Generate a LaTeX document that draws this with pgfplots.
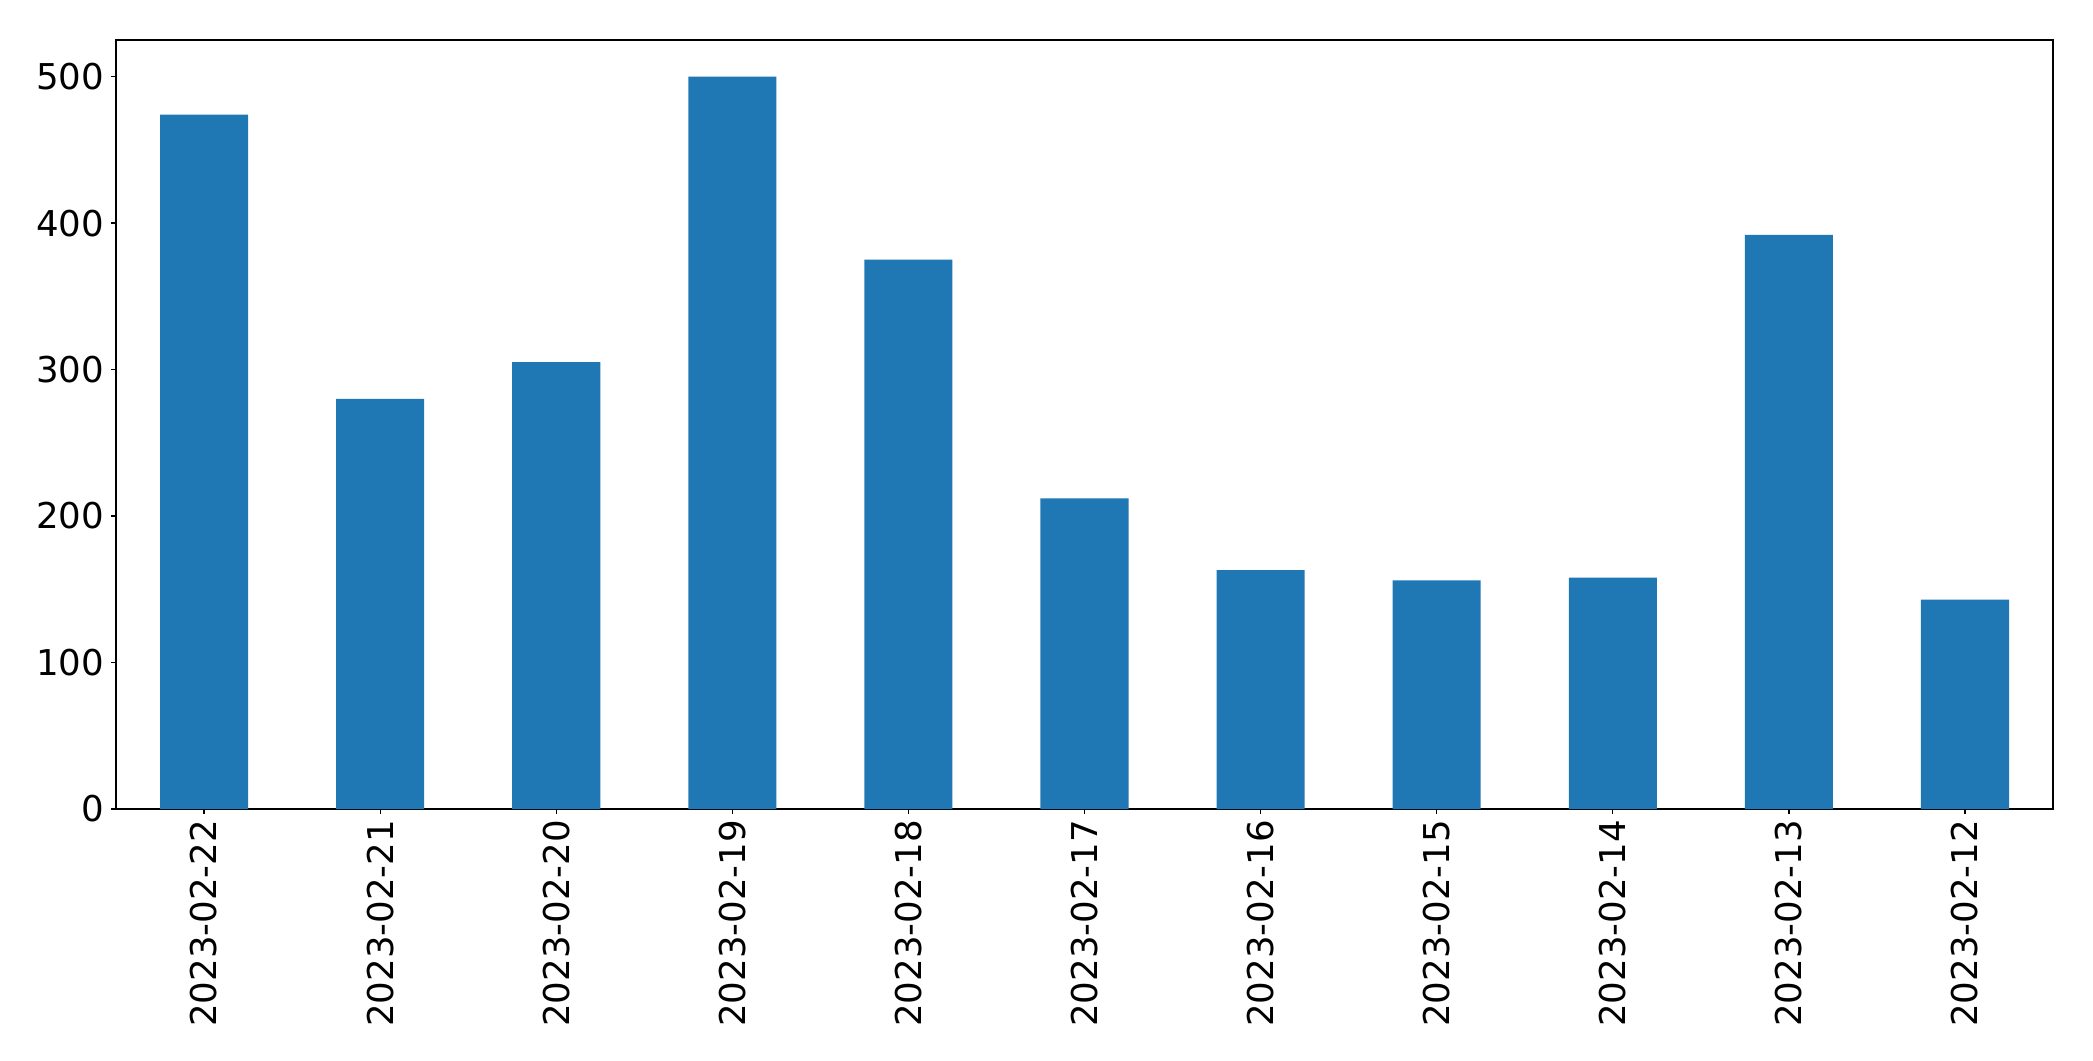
\documentclass[border=0pt]{standalone}
\usepackage{pgfplots}
\pgfplotsset{compat=1.18}
\usepackage{fontspec}
\setmainfont{DejaVu Sans}
\definecolor{tabblue}{HTML}{1F77B4}
\begin{document}
\begin{tikzpicture}
\begin{axis}[
  name=ax,
  at={(0,0)}, anchor=south west,
  scale only axis,
  width=697.32pt, height=276.84pt,
  xmin=-0.5, xmax=10.5, ymin=0, ymax=525,
  ybar, bar width=0.5,
  xtick={0,1,2,3,4,5,6,7,8,9,10},
  xticklabels={2023-02-22,2023-02-21,2023-02-20,2023-02-19,2023-02-18,2023-02-17,2023-02-16,2023-02-15,2023-02-14,2023-02-13,2023-02-12},
  ytick={0,100,200,300,400,500},
  tick pos=left,
  tick align=outside,
  major tick length=1.8pt,
  tick style={black, line width=0.45pt},
  axis line style={black, line width=0.45pt},
  tick label style={font=\fontsize{12.8}{15}\selectfont},
  x tick label style={rotate=90, anchor=east, inner sep=2pt},
  y tick label style={inner sep=2.3pt},
  /pgf/number format/assume math mode=true,
  scaled y ticks=false,
]
\addplot[fill=tabblue, draw=none] coordinates {
  (0,474) (1,280) (2,305) (3,500) (4,375) (5,212) (6,163) (7,156) (8,158) (9,392) (10,143)
};
\end{axis}
\path ([shift={(-41.76pt,-90.72pt)}]ax.south west) rectangle ([shift={(14.4pt,14.4pt)}]ax.north east);
\end{tikzpicture}
\end{document}
